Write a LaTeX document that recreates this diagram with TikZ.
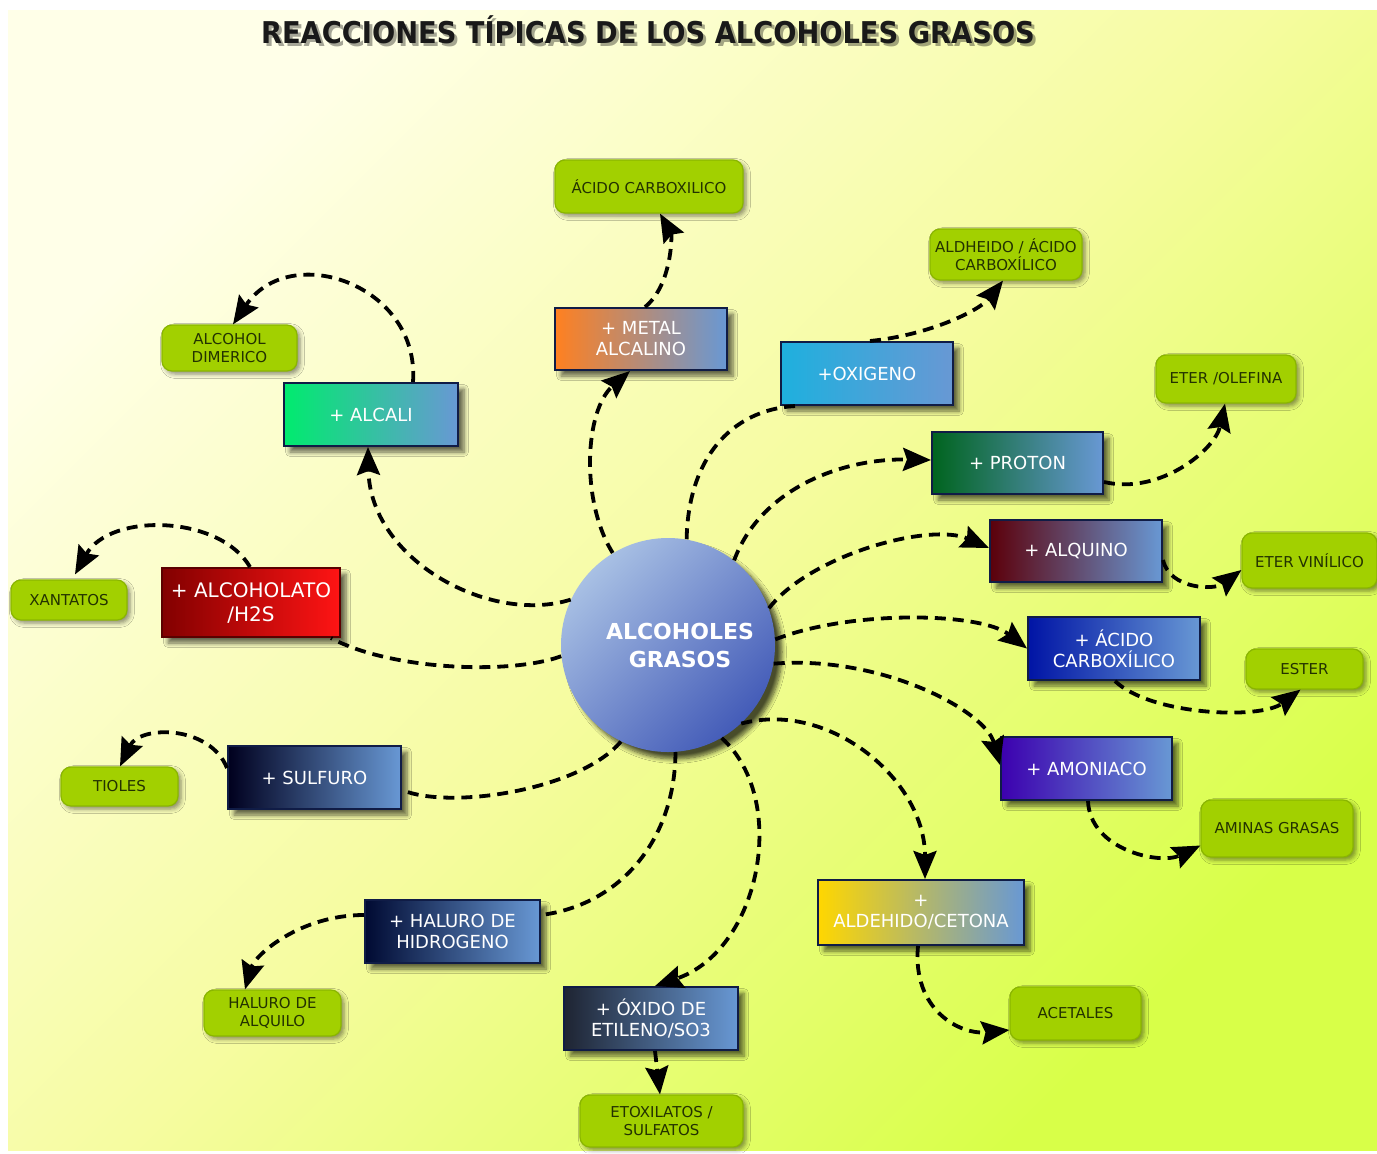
\documentclass[tikz,border=0pt]{standalone}
\usepackage{fontspec}
\usepackage{graphicx}
\setmainfont{DejaVu Sans}
\usetikzlibrary{arrows.meta,shadows.blur,calc}

% palette
\definecolor{steel}{RGB}{104,152,212}
\definecolor{navyb}{RGB}{16,28,70}
\definecolor{prodfill}{RGB}{162,208,0}
\definecolor{prodline}{RGB}{138,182,0}
\definecolor{prodtext}{RGB}{35,50,0}
\definecolor{bgA}{RGB}{255,255,232}
\definecolor{bgB}{RGB}{246,252,160}
\definecolor{bgC}{RGB}{216,255,72}
\definecolor{cMetal}{RGB}{255,128,32}
\definecolor{cOxi}{RGB}{30,176,222}
\definecolor{cAlcali}{RGB}{0,235,110}
\definecolor{cProton}{RGB}{0,100,30}
\definecolor{cAlquino}{RGB}{92,0,10}
\definecolor{cAlcoA}{RGB}{130,0,0}
\definecolor{cAlcoB}{RGB}{255,20,20}
\definecolor{cAcido}{RGB}{0,20,165}
\definecolor{cAmon}{RGB}{60,0,175}
\definecolor{cSulfuro}{RGB}{0,0,30}
\definecolor{cAldeh}{RGB}{255,215,0}
\definecolor{cHaluro}{RGB}{0,10,50}
\definecolor{cOxido}{RGB}{30,36,50}
\definecolor{ballA}{RGB}{168,192,228}
\definecolor{ballB}{RGB}{68,92,184}

\tikzset{
  sz/.style 2 args={minimum width=#1*0.5pt, minimum height=#2*0.5pt},
  reagent/.style={rectangle, draw=navyb, line width=1pt, inner sep=0pt,
    align=center, text=white, font=\fontsize{9}{10.5}\selectfont,
    right color=steel,
    blur shadow={shadow xshift=3pt, shadow yshift=-3pt, shadow opacity=60, shadow blur steps=6}},
  product/.style={rectangle, rounded corners=5pt, fill=prodfill, draw=prodline,
    line width=0.6pt, inner sep=0pt, align=center, text=prodtext,
    font=\fontsize{7.5}{9}\selectfont,
    blur shadow={shadow xshift=1.5pt, shadow yshift=-1.5pt, shadow opacity=45, shadow blur steps=5}},
  link/.style={line width=1.9pt, dash pattern=on 5.5pt off 3.5pt, black},
  arrowlink/.style={link, -{Stealth[length=14pt, width=11.5pt, inset=2pt]}},
}

\begin{document}
\begin{tikzpicture}[x=0.5pt, y=-0.5pt]
% canvas and background
\useasboundingbox (0,0) rectangle (1377,1153);
\fill[white] (0,0) rectangle (1377,1153);
\shade[top color=bgA, bottom color=bgC, middle color=bgB, shading angle=45]
  (8,10) rectangle (1377,1150);

% title with soft shadow
\node[font=\bfseries\fontsize{15}{18}\selectfont, text=black, opacity=0.35] (titleshadow) at (651,33)
  {\scalebox{0.91}[1]{REACCIONES TÍPICAS DE LOS ALCOHOLES GRASOS}};
\node[font=\bfseries\fontsize{15}{18}\selectfont, text=black!90] (title) at (648,30)
  {\scalebox{0.91}[1]{REACCIONES TÍPICAS DE LOS ALCOHOLES GRASOS}};

% central compound
\node[circle, minimum size=214*0.5pt, inner sep=0pt,
      top color=ballA, bottom color=ballB, shading angle=45,
      blur shadow={shadow xshift=3.5pt, shadow yshift=-3.5pt, shadow opacity=70, shadow blur steps=8},
      label={[text=white, font=\bfseries\fontsize{11}{14}\selectfont, align=center, xshift=6pt]center:ALCOHOLES\\GRASOS}]
  (c) at (668,645) {};

% reagents
\node[reagent, sz={172}{62}, left color=cMetal]   (rMetal)   at (641,339)    {+ METAL\\ALCALINO};
\node[reagent, sz={172}{63}, left color=cOxi]     (rOxi)     at (867,373.5)  {+OXIGENO};
\node[reagent, sz={174}{63}, left color=cAlcali]  (rAlcali)  at (371,414.5)  {+ ALCALI};
\node[reagent, sz={171}{62}, left color=cProton]  (rProton)  at (1017.5,463) {+ PROTON};
\node[reagent, sz={172}{62}, left color=cAlquino] (rAlquino) at (1076,551)   {+ ALQUINO};
\node[reagent, sz={178}{69}, left color=cAlcoA, right color=cAlcoB, draw=cAlcoA!70!black,
      font=\fontsize{10}{12}\selectfont]          (rAlcoholato) at (251,602.5) {+ ALCOHOLATO\\/H2S};
\node[reagent, sz={172}{63}, left color=cAcido]   (rAcido)   at (1114,648.5) {+ ÁCIDO\\CARBOXÍLICO};
\node[reagent, sz={171}{63}, left color=cAmon]    (rAmon)    at (1086.5,768.5) {+ AMONIACO};
\node[reagent, sz={173}{63}, left color=cSulfuro] (rSulfuro) at (314.5,777.5) {+ SULFURO};
\node[reagent, sz={206}{65}, left color=cAldeh]   (rAldeh)   at (921,912.5)  {+\\ALDEHIDO/CETONA};
\node[reagent, sz={175}{63}, left color=cHaluro]  (rHaluro)  at (452.5,931.5) {+ HALURO DE\\HIDROGENO};
\node[reagent, sz={174}{63}, left color=cOxido]   (rOxido)   at (651,1018.5) {+ ÓXIDO DE\\ETILENO/SO3};

% products
\node[product, sz={188}{53}] (pAcido)  at (649,186.5)    {ÁCIDO CARBOXILICO};
\node[product, sz={152}{51}] (pAldh)   at (1006,254.5)   {ALDHEIDO / ÁCIDO\\CARBOXÍLICO};
\node[product, sz={135}{46}] (pDimer)  at (229.5,348)    {ALCOHOL\\DIMERICO};
\node[product, sz={140}{48}] (pEter)   at (1226,379)     {ETER /OLEFINA};
\node[product, sz={116}{40}] (pXant)   at (69,600)       {XANTATOS};
\node[product, sz={135}{55}] (pVinil)  at (1309.5,560.5) {ETER VINÍLICO};
\node[product, sz={117}{40}] (pEster)  at (1304.5,669)   {ESTER};
\node[product, sz={152}{57}] (pAminas) at (1277,828.5)   {AMINAS GRASAS};
\node[product, sz={117}{39}] (pTioles) at (119.5,786.5)  {TIOLES};
\node[product, sz={131}{53}] (pAcet)   at (1075.5,1013.5) {ACETALES};
\node[product, sz={137}{46}] (pHaluro) at (272.5,1013)   {HALURO DE\\ALQUILO};
\node[product, sz={163}{52}] (pEtox)   at (661.5,1121)   {ETOXILATOS /\\SULFATOS};

% connectors: compound -> reagent -> product
\draw[arrowlink] (c.121) .. controls (580,500) and (585,410) .. ($(rMetal.south)+(-11,0)$);
\draw[arrowlink] ($(rMetal.north)+(4,0)$) .. controls (672,285) and (672,235) .. ($(pAcido.south)+(11,0)$);

\draw[link] (c.80) .. controls (688,460) and (730,410) .. ($(rOxi.south)+(-72,0)$);
\draw[arrowlink] ($(rOxi.north)+(3,0)$) .. controls (930,335) and (980,310) .. ($(pAldh.south)+(-3,0)$);

\draw[arrowlink] (c.52) .. controls (760,490) and (840,458) .. ($(rProton.west)+(0,-3)$);
\draw[arrowlink] ($(rProton.east)+(0,19)$) .. controls (1160,495) and (1215,450) .. ($(pEter.south)+(-1,0)$);

\draw[arrowlink] (c.20) .. controls (810,555) and (930,522) .. ($(rAlquino.west)+(0,-3)$);
\draw[arrowlink] ($(rAlquino.east)+(0,9)$) .. controls (1170,590) and (1215,590) .. ($(pVinil.west)+(0,9.5)$);

\draw[arrowlink] (c.3) .. controls (850,610) and (980,612) .. (rAcido.west);
\draw[arrowlink] ($(rAcido.south)+(1,0)$) .. controls (1150,715) and (1260,720) .. ($(pEster.south)+(-4,0)$);

\draw[arrowlink] (c.-10) .. controls (880,655) and (985,710) .. ($(rAmon.west)+(0,-3.5)$);
\draw[arrowlink] ($(rAmon.south)+(1.5,0)$) .. controls (1090,850) and (1160,865) .. ($(pAminas.west)+(0,17)$);

\draw[arrowlink] (c.-47) .. controls (830,700) and (925,780) .. ($(rAldeh.north)+(4,0)$);
\draw[arrowlink] ($(rAldeh.south)+(-3,0)$) .. controls (912,1010) and (960,1035) .. ($(pAcet.west)+(0,16.5)$);

\draw[arrowlink] (c.-60) .. controls (790,800) and (760,950) .. ($(rOxido.north)+(4,0)$);
\draw[arrowlink] ($(rOxido.south)+(4,0)$) -- ($(pEtox.north)+(-1.5,0)$);

\draw[link] (c.-86) .. controls (675,840) and (620,905) .. ($(rHaluro.east)+(0,-16.5)$);
\draw[arrowlink] ($(rHaluro.west)+(0,-16.5)$) .. controls (300,915) and (255,955) .. ($(pHaluro.north)+(-27.5,0)$);

\draw[link] (c.244) .. controls (580,790) and (450,810) .. ($(rSulfuro.east)+(0,12.5)$);
\draw[arrowlink] ($(rSulfuro.west)+(0,-9.5)$) .. controls (210,725) and (140,725) .. ($(pTioles.north)+(0.5,0)$);

\draw[link] (c.186) .. controls (510,675) and (390,670) .. ($(rAlcoholato.south east)+(-10,0)$);
\draw[arrowlink] ($(rAlcoholato.north)+(-1,0)$) .. controls (220,515) and (110,512) .. ($(pXant.north)+(6,-5)$);

\draw[arrowlink] (c.155) .. controls (490,625) and (370,560) .. ($(rAlcali.south)+(-3,0)$);
\draw[arrowlink] ($(rAlcali.north)+(42,0)$) .. controls (420,285) and (290,240) .. ($(pDimer.north)+(3.5,0)$);
\end{tikzpicture}
\end{document}
